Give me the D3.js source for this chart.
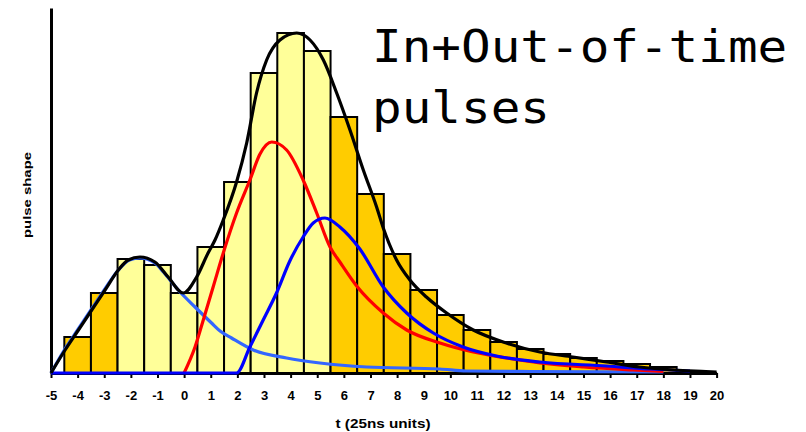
<!DOCTYPE html>
<html>
<head>
<meta charset="utf-8">
<script src="https://cdn.jsdelivr.net/npm/d3@7"></script>
<style>
  html, body { margin: 0; padding: 0; background: #ffffff; }
  svg { display: block; }
</style>
</head>
<body>
<svg id="chart" width="806" height="432"></svg>
<script>
// Sampled histogram: one bar per 25 ns time slot
const barT = [-4, -3, -2, -1, 0, 1, 2, 3, 4, 5, 6, 7, 8, 9, 10, 11, 12, 13, 14, 15, 16, 17, 18];
const barV = [36, 80, 114, 108, 80, 126, 191, 300, 340, 322, 256, 179, 119, 83, 58, 43, 31, 24, 19, 15, 12, 9, 6];
// Slots belonging to the in-time readout window (light fill)
const windowSlots = [-2, 5];

// Pulse shapes: [t, value]
const prevPulse = [[-5, 0], [-4.5, 23], [-4, 43], [-3.5, 63], [-3, 83], [-2.5, 102], [-2.05, 113], [-1.66, 115],
  [-1.1, 110], [-0.78, 101], [-0.22, 83], [0.41, 66], [1.03, 50], [1.35, 42], [1.78, 35], [2.6, 23], [3.85, 15],
  [5.1, 10], [6.86, 6], [9.6, 4], [10.6, 2], [13, 1.5], [18, 1]];
const inTimePulse = [[0, 0], [0.41, 26], [0.72, 53], [1.09, 86], [1.47, 120], [1.97, 160], [2.47, 193], [2.85, 219],
  [3.29, 231], [3.85, 223], [4.47, 193], [4.98, 160], [5.48, 126], [5.85, 111], [6.48, 87], [7.48, 60], [8.36, 43],
  [9.61, 30], [10.86, 21], [12.11, 15], [13.36, 10], [15, 6], [16.85, 3], [18, 1.5]];
const nextPulse = [[-5, 0], [1.97, 0], [2.47, 26], [2.97, 53], [3.47, 80], [3.97, 112], [4.47, 136], [4.85, 150],
  [5.29, 155], [5.85, 146], [6.6, 124], [7.48, 86], [8.36, 60], [9.36, 40], [10.48, 26], [11.73, 17], [13.36, 11],
  [15.87, 7], [17.5, 4], [19, 2]];
const sumPulse = [[-5, 0], [-4.47, 23], [-3.97, 43], [-3.47, 63], [-2.97, 83], [-2.47, 103], [-2.1, 113], [-1.66, 116],
  [-1.1, 111], [-0.6, 96], [-0.03, 80], [0.47, 96], [0.9, 120], [1.16, 133], [1.47, 153], [1.97, 191], [2.35, 230],
  [2.72, 280], [3.1, 313], [3.6, 333], [4.23, 340], [4.73, 333], [5.23, 313], [5.73, 280], [6.23, 243], [6.73, 203],
  [7.23, 166], [7.48, 145], [7.98, 113], [8.48, 93], [9.1, 76], [9.86, 60], [10.86, 43], [12.1, 30], [13.36, 21],
  [14.6, 16], [15.87, 11], [17.1, 6], [18.4, 3], [19.6, 1.5], [20, 1]];

const xTicks = d3.range(-5, 21);
const titleLines = ["In+Out-of-time", "pulses"];
const xLabel = "t (25ns units)";
const yLabel = "pulse shape";

const svg = d3.select("#chart");
const x = d3.scaleLinear().domain([-5, 20]).range([51, 716.6]);
const y = d3.scaleLinear().domain([0, 365]).range([373, 8]);
const slot = x(1) - x(0);

// Bars
svg.append("g").selectAll("rect")
  .data(barT.map((t, i) => ({ t, v: barV[i] })))
  .join("rect")
  .attr("x", d => x(d.t - 0.5))
  .attr("y", d => y(d.v))
  .attr("width", slot)
  .attr("height", d => y(0) - y(d.v))
  .attr("fill", d => (d.t >= windowSlots[0] && d.t <= windowSlots[1]) ? "#ffff99" : "#ffcc00")
  .attr("stroke", "#000")
  .attr("stroke-width", 2);

// Axes
const xAxis = svg.append("g")
  .attr("transform", `translate(0,${y(0)})`)
  .call(d3.axisBottom(x).tickValues(xTicks).tickFormat(d => String(d)).tickSize(5).tickSizeOuter(0).tickPadding(13));
xAxis.select(".domain").attr("stroke", "#000").attr("stroke-width", 3);
xAxis.selectAll(".tick line").attr("stroke", "#000").attr("stroke-width", 2);
xAxis.selectAll(".tick text")
  .attr("font-family", "'Liberation Sans', Arial, sans-serif")
  .attr("font-weight", "bold")
  .attr("font-size", 13)
  .attr("fill", "#000");

const yAxis = svg.append("g")
  .attr("transform", `translate(${x(-5)},0)`)
  .call(d3.axisLeft(y).tickValues([]).tickSizeOuter(0));
yAxis.select(".domain").attr("stroke", "#000").attr("stroke-width", 3);

// Pulse curves
const line = d3.line()
  .x(d => x(d[0]))
  .y(d => y(d[1]))
  .curve(d3.curveMonotoneX);

const curves = [
  { data: prevPulse, color: "#3366ff" },
  { data: inTimePulse, color: "#ff0000" },
  { data: nextPulse, color: "#0000ff" },
  { data: sumPulse, color: "#000000" }
];
svg.append("g").selectAll("path")
  .data(curves)
  .join("path")
  .attr("d", d => line(d.data))
  .attr("fill", "none")
  .attr("stroke", d => d.color)
  .attr("stroke-width", 3.2)
  .attr("stroke-linejoin", "round");

// Axis titles
svg.append("text")
  .attr("x", 383)
  .attr("y", 428)
  .attr("text-anchor", "middle")
  .attr("font-family", "'Liberation Sans', Arial, sans-serif")
  .attr("font-weight", "bold")
  .attr("font-size", 12)
  .attr("textLength", 95)
  .attr("lengthAdjust", "spacingAndGlyphs")
  .text(xLabel);

svg.append("text")
  .attr("transform", "translate(31,195) rotate(-90)")
  .attr("text-anchor", "middle")
  .attr("font-family", "'Liberation Sans', Arial, sans-serif")
  .attr("font-weight", "bold")
  .attr("font-size", 11.5)
  .attr("textLength", 86)
  .attr("lengthAdjust", "spacingAndGlyphs")
  .text(yLabel);

// Title block (monospace, slightly widened)
svg.append("g")
  .attr("transform", "translate(372,0) scale(1.12,1)")
  .selectAll("text")
  .data(titleLines)
  .join("text")
  .attr("x", 0)
  .attr("y", (d, i) => 62.5 + i * 60.5)
  .attr("font-family", "'DejaVu Sans Mono', monospace")
  .attr("font-size", 44)
  .attr("fill", "#000")
  .text(d => d);
</script>
</body>
</html>
